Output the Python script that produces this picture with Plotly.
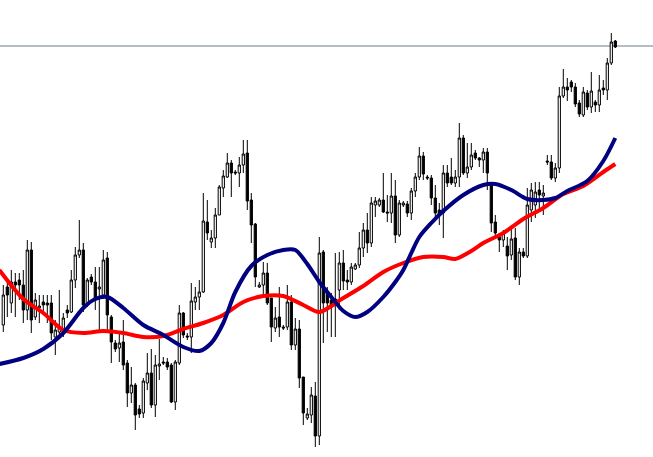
import plotly.graph_objects as go

# Candle index
n_candles = 154
idx = list(range(n_candles))

open_ = [132,170,154,175,177,172,147,207,140,149,155,154,154,120,125,125,147,145,177,202,
         207,152,180,175,168,162,199,140,114,109,115,94,64,72,48,44,74,84,52,91,
         95,95,92,55,94,144,121,120,155,160,165,235,215,219,242,269,280,294,285,284,
         292,304,257,233,170,172,184,159,129,140,130,130,155,112,128,80,39,42,61,21,
         205,165,157,158,167,194,177,175,188,192,209,227,214,252,252,257,245,244,261,222,
         252,253,244,266,280,301,280,279,259,247,244,284,280,274,280,319,284,290,304,299,
         297,305,272,235,220,217,211,202,219,180,205,201,247,252,267,261,296,295,279,289,
         361,370,375,370,354,342,364,350,355,352,369,367,394,416]
high = [172,177,187,184,184,187,217,215,164,162,162,162,162,137,167,144,152,187,210,237,
        214,179,183,190,190,207,205,142,117,124,137,97,90,74,52,79,104,108,102,118,
        100,99,94,97,152,145,124,174,170,177,264,257,227,249,272,287,304,297,287,300,
        317,317,264,234,175,195,194,159,150,170,132,172,162,139,137,80,49,70,75,220,
        207,170,164,204,205,207,187,194,194,225,234,244,260,260,259,284,262,284,277,257,
        256,256,269,284,310,305,282,282,272,254,292,292,299,287,334,322,314,314,307,300,
        309,309,275,242,224,227,220,229,229,209,209,269,274,275,275,272,302,302,294,370,
        388,379,377,374,357,370,367,385,357,382,377,399,424,417]
low = [125,140,144,140,157,134,137,124,137,134,144,134,117,102,120,120,139,144,169,199,
       145,150,172,147,127,160,127,94,105,95,87,50,54,27,39,39,67,49,40,77,
       92,87,54,47,92,119,117,104,147,147,164,217,209,209,242,260,279,260,282,270,
       284,247,214,170,169,159,152,115,125,120,127,127,107,107,69,32,37,34,10,12,
       114,125,120,120,147,167,167,172,187,189,200,204,210,240,250,244,235,234,214,220,
       250,240,237,260,277,277,277,252,240,232,219,270,272,270,270,282,279,287,297,290,
       284,267,225,219,205,210,187,197,177,172,199,199,235,239,247,242,292,277,275,284,
       359,356,365,350,340,340,347,344,345,345,362,357,392,409]
close = [162,162,175,172,172,147,207,137,157,151,152,152,124,127,130,139,144,177,202,207,
         152,177,175,157,170,197,142,115,108,114,92,64,72,42,43,76,84,52,92,93,
         94,90,55,95,144,122,120,156,160,165,236,224,219,242,270,281,294,284,284,292,
         303,256,232,180,172,184,154,130,139,130,129,155,112,128,79,44,43,62,21,204,
         154,154,152,156,194,176,175,190,192,209,227,214,254,256,257,245,244,261,222,254,
         254,244,266,280,301,283,279,259,244,243,284,274,274,280,319,284,290,302,299,297,
         305,284,234,224,217,224,201,218,180,205,201,252,267,265,262,264,295,279,289,361,
         370,367,370,353,343,365,350,366,352,367,367,394,415,410]

# Moving averages (candle index, value)
red_idx = [-1,5,10,15,20,25,30,35,40,45,50,55,60,65,70,75,79,85,90,95,100,105,110,113,117,
           120,125,130,135,140,145,150,153]
red_val = [187,158,144,127,124,126,124,120,121,128,134,142,155,161,161,152,145,159,171,185,
           194,200,200,198,206,214,224,238,249,263,271,285,293]
blue_idx = [-1,5,10,15,20,23,26,30,35,40,45,49,52,55,58,62,66,70,73,76,79,82,85,88,91,95,98,
            100,102,104,107,110,115,120,123,127,131,135,138,141,146,150,153]
blue_val = [93,99,108,124,149,158,160,149,132,122,110,106,114,134,165,191,202,207,207,193,175,
            160,146,140,145,160,175,187,204,220,234,246,262,272,273,267,258,257,259,266,276,
            296,319]

bid_price = 411

fig = go.Figure()
fig.add_trace(go.Candlestick(
    x=idx, open=open_, high=high, low=low, close=close,
    increasing=dict(fillcolor="white", line=dict(color="black", width=1)),
    decreasing=dict(fillcolor="black", line=dict(color="black", width=1)),
    whiskerwidth=0, showlegend=False, hoverinfo="skip"))
fig.add_trace(go.Scatter(x=red_idx, y=red_val, mode="lines",
                         line=dict(color="#FF0000", width=4, shape="spline", smoothing=0.8),
                         showlegend=False, hoverinfo="skip"))
fig.add_trace(go.Scatter(x=blue_idx, y=blue_val, mode="lines",
                         line=dict(color="#000080", width=4, shape="spline", smoothing=0.8),
                         showlegend=False, hoverinfo="skip"))
fig.add_shape(type="line", xref="paper", x0=0, x1=1, yref="y", y0=bid_price, y1=bid_price,
              line=dict(color="#6E7B8B", width=1), layer="below")

fig.update_layout(
    width=653, height=457,
    margin=dict(l=0, r=0, t=0, b=0),
    paper_bgcolor="white", plot_bgcolor="white",
    boxgap=0.2,
    xaxis=dict(range=[-0.825, 162.425], visible=False, showgrid=False,
               rangeslider=dict(visible=False), fixedrange=True),
    yaxis=dict(range=[0, 457], visible=False, showgrid=False, fixedrange=True),
)
fig.write_html("out.html", config={"displayModeBar": False},
               post_script="document.body.style.margin='0';document.body.style.overflow='hidden';")
